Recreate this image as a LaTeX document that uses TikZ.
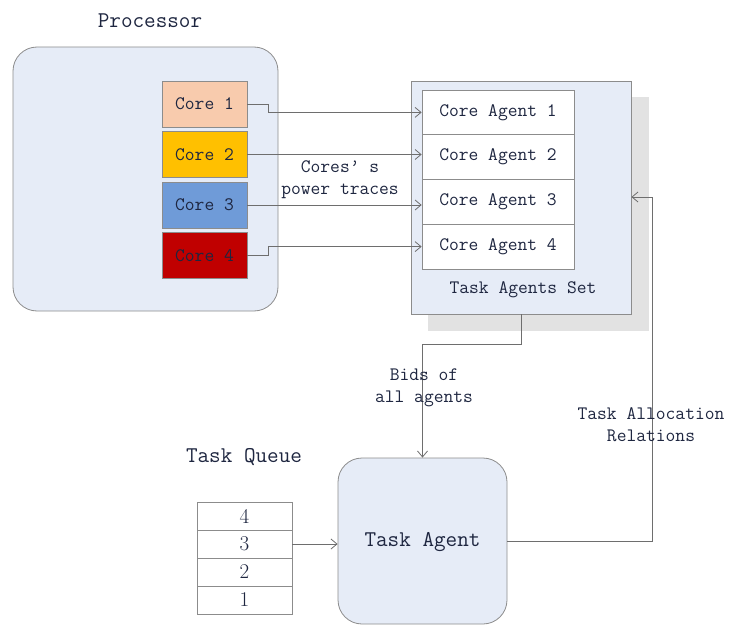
\documentclass[tikz,border=0pt]{standalone}
\usepackage{fontspec}
\usetikzlibrary{arrows.meta}
\definecolor{boxfill}{HTML}{E6ECF7}
\definecolor{boxline}{HTML}{8C8C8C}
\definecolor{lineclr}{HTML}{6E6E6E}
\definecolor{txt}{HTML}{1E2640}
\definecolor{c1}{HTML}{F8CBAD}
\definecolor{c2}{HTML}{FFC000}
\definecolor{c3}{HTML}{6F9BD8}
\definecolor{c4}{HTML}{C00000}
\definecolor{shadowgray}{HTML}{E2E2E2}
\begin{document}
\begin{tikzpicture}[x=1pt,y=-1pt,
  every node/.style={font=\ttfamily\fontsize{19}{22}\selectfont, text=txt},
  big/.style={font=\ttfamily\fontsize{22.5}{25}\selectfont},
  rbox/.style={draw=boxline, fill=boxfill, rounded corners=24pt, line width=0.8pt, inner sep=0pt},
  corebox/.style={draw=boxline, line width=0.8pt, minimum width=85pt, minimum height=46pt, inner sep=0pt},
  agentrow/.style={draw=boxline, fill=white, line width=0.7pt, minimum width=152pt, minimum height=44.75pt, inner sep=0pt},
  qcell/.style={draw=boxline, fill=white, line width=0.7pt, minimum width=95pt, minimum height=28pt, inner sep=0pt, font=\rmfamily\fontsize{21}{23}\selectfont},
  conn/.style={draw=lineclr, line width=0.8pt, -{Straight Barb[length=6pt,width=10pt]}}
]
\useasboundingbox (0,0) rectangle (729,626);

% Processor
\node[big] (proclbl) at (150,21) {Processor};
\node[rbox, minimum width=265pt, minimum height=264pt] (proc) at (145.5,179) {};
\node[corebox, fill=c1] (core1) at (204.5,104) {Core 1};
\node[corebox, fill=c2] (core2) at (204.5,154.5) {Core 2};
\node[corebox, fill=c3] (core3) at (204.5,205) {Core 3};
\node[corebox, fill=c4] (core4) at (204.5,255.5) {Core 4};

% Task agents set
\node[fill=shadowgray, minimum width=221pt, minimum height=234pt, inner sep=0pt] (shadow) at (538.5,214) {};
\node[draw=boxline, fill=boxfill, line width=0.8pt, minimum width=220pt, minimum height=233pt, inner sep=0pt] (set) at (521,197.5) {};
\node[agentrow] (a1) at (498,112.4) {Core Agent 1};
\node[agentrow] (a2) at (498,157.1) {Core Agent 2};
\node[agentrow] (a3) at (498,201.9) {Core Agent 3};
\node[agentrow] (a4) at (498,246.6) {Core Agent 4};
\node (setlbl) at (523,290) {Task Agents Set};

% core -> agent arrows
\draw[conn] (core1.east) -- ++(21,0) |- (a1.west);
\draw[conn] (core2.east) -- (a2.west |- core2.east);
\draw[conn] (core3.east) -- (a3.west |- core3.east);
\draw[conn] (core4.east) -- ++(21,0) |- (a4.west);
\node[align=center, fill=white, inner sep=1pt] (tracelbl) at (340,180) {Cores’ s\\power traces};

% Task agent
\node[rbox, minimum width=169pt, minimum height=166pt] (ta) at (422.5,541) {};
\node[big] (talbl) at (422.5,542) {Task Agent};

% Task queue
\node[big] (qlbl) at (244,457) {Task Queue};
\node[qcell] (q4) at (244.5,516) {4};
\node[qcell] (q3) at (244.5,544) {3};
\node[qcell] (q2) at (244.5,572) {2};
\node[qcell] (q1) at (244.5,600) {1};
\draw[conn] (q3.east) -- (ta.west |- q3.east);

% Bids
\draw[conn] (set.south) -- ++(0,30) -| (ta.north);
\node[align=center] (bidslbl) at (424,388) {Bids of\\all agents};

% Allocation
\coordinate (alloc) at (652,197);
\draw[conn] (ta.east) -| (alloc) -- (set.east |- alloc);
\node[align=center] (alloclbl) at (651,425) {Task Allocation\\Relations};
\end{tikzpicture}
\end{document}
